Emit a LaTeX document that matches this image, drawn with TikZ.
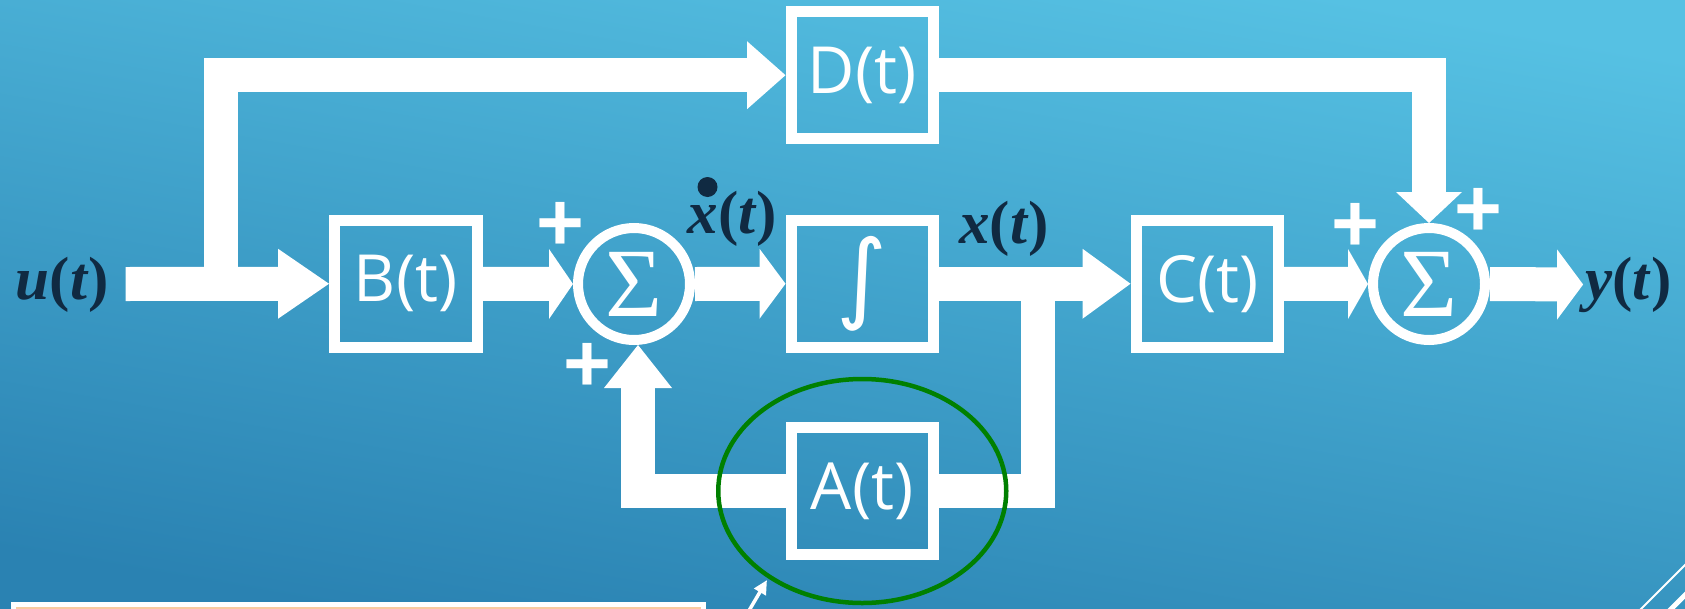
\documentclass[tikz,border=0pt]{standalone}
\usepackage{fontspec}
\usetikzlibrary{calc,shapes.geometric,arrows.meta}
\newfontfamily\boxfont{Open Sans}
\newfontfamily\labfont{Liberation Serif}
\newfontfamily\plusfont{Liberation Sans}
\newfontfamily\intfont{DejaVu Sans}
\definecolor{bgtop}{RGB}{86,193,227}
\definecolor{bgbot}{RGB}{42,130,178}
\definecolor{navy}{RGB}{16,42,66}
\definecolor{ringgreen}{RGB}{0,128,0}
\definecolor{peach}{RGB}{248,203,160}
\newcommand\headE[3]{\fill[white] (#1) -- ++(-#2,-#3) -- ++(0,2*#3) -- cycle;}
\newcommand\headS[3]{\fill[white] (#1) -- ++(-#3,-#2) -- ++(2*#3,0) -- cycle;}
\newcommand\headN[3]{\fill[white] (#1) -- ++(-#3,#2) -- ++(2*#3,0) -- cycle;}
\begin{document}
\begin{tikzpicture}[x=1pt,y=-1pt,
  blk/.style={draw=white, line width=11pt, minimum width=142.5pt, minimum height=126.5pt, inner sep=0pt, text=white, font=\boxfont\fontsize{65}{70}\selectfont},
  sumn/.style={circle, draw=white, line width=10pt, minimum size=112pt, inner sep=0pt, text=white, font=\labfont\fontsize{98}{98}\selectfont},
  wire/.style={draw=white, line width=34pt, line join=miter},
  lab/.style={inner sep=0pt, text=navy, font=\labfont\bfseries\fontsize{61}{62}\selectfont},
  plus/.style={inner sep=0pt, text=white, font=\plusfont\bfseries\fontsize{82}{82}\selectfont},
]
\useasboundingbox (0,0) rectangle (1685,608);
\clip (0,0) rectangle (1685,608);
\shade[top color=bgtop, bottom color=bgbot, shading angle=-10] (-5,-5) rectangle (1690,613);

% blocks
\node[blk] (B) at (405.75,283.75) {B(t)};
\node[blk] (I) at (862.25,283.75) {\raisebox{3pt}{\intfont\fontsize{98}{98}\selectfont ∫}};
\node[blk] (C) at (1207.25,283.75) {C(t)};
\node[blk] (D) at (862.25,75.2) {D(t)};
\node[blk] (A) at (862.25,491) {A(t)};
\node[sumn] (s1) at (634,284) {Σ};
\node[sumn] (s2) at (1429,284) {Σ};

% labels
\node[lab] (ulab) at (62.5,284.5) {\textit{u}(\textit{t})};
\node[lab] (xdlab) at (732.5,218.5) {\textit{x}(\textit{t})};
\fill[navy] ($(xdlab.west)+(20,-31.5)$) circle[radius=10];
\node[lab] (xlab) at (1004,229) {\textit{x}(\textit{t})};
\node[lab] (ylab) at (1628.5,284.5) {\textit{y}(\textit{t})};

% plus signs
\node[plus] (p1) at (560,226) {+};
\node[plus] (p2) at (587,367) {+};
\node[plus] (p3) at (1355,227) {+};
\node[plus] (p4) at (1478,212) {+};

% coordinates
\coordinate (uin) at (125.7,284);
\coordinate (br) at (221.4,284);
\coordinate (fb) at (1038,284);
\coordinate (fbt) at ($(s1.south)+(4,0)$);

% wires
\draw[wire, shorten >=50pt] (uin) -- (B.west);
\headE{B.west}{51}{35}
\draw[wire, shorten >=37pt] (br) |- (D.west);
\headE{D.west}{38.5}{34}
\draw[wire, shorten >=23pt] (B.east) -- (s1.west);
\headE{s1.west}{24}{35}
\draw[wire, shorten >=25pt] (s1.east) -- (I.west);
\headE{I.west}{26}{35}
\draw[wire, shorten >=47pt] (I.east) -- (C.west);
\headE{C.west}{48}{35}
\draw[wire, shorten >=19pt] (C.east) -- (s2.west);
\headE{s2.west}{20}{35}
\draw[wire, shorten >=25pt] (s2.east) -- ($(ylab.west)+(-2,0)$);
\headE{$(ylab.west)+(-2,0)$}{26}{35}
\draw[wire, shorten >=30pt] (D.east) -| (s2.north);
\headS{s2.north}{31}{33}
\draw[wire] (fb) |- (A.east);
\draw[wire, shorten >=42pt] (A.west) -| (fbt);
\headN{fbt}{43}{34}

% highlight ring
\node[ellipse, draw=ringgreen, line width=4.5pt, minimum width=288pt, minimum height=224pt, inner sep=0pt] (hl) at (A.center) {};

% slide remnants
\draw[white, line width=5pt, fill=peach] (13.5,604) rectangle (703.5,650);
\coordinate (pa) at (747,614);
\coordinate (pb) at (767,580);
\draw[white, line width=3.5pt, -{Triangle[length=14pt,width=13pt]}] (pa) -- (pb);
\coordinate (c1a) at (1640,610);
\coordinate (c1b) at (1688,562);
\draw[white, line width=2pt] (c1a) -- (c1b);
\coordinate (c2a) at (1668,612);
\coordinate (c2b) at (1690,590);
\draw[white, line width=5pt] (c2a) -- (c2b);
\end{tikzpicture}
\end{document}
